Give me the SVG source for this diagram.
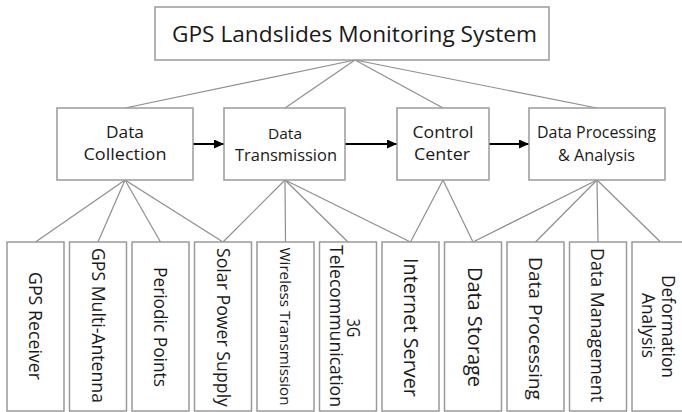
<svg xmlns="http://www.w3.org/2000/svg" width="682" height="412" viewBox="0 0 682 412">
<defs>
<marker id="arr" markerUnits="userSpaceOnUse" markerWidth="11" markerHeight="10" refX="10" refY="4.5" orient="auto">
<path d="M0,0 L10,4.5 L0,9 z" fill="#000"/>
</marker>
<style>
.box{fill:#fff;stroke:#9a9a9a;stroke-width:1.5}
.ln{stroke:#8e8e8e;stroke-width:1.2;fill:none}
.ar{stroke:#000;stroke-width:2;fill:none}
text{font-family:"Open Sans","Liberation Sans",sans-serif;fill:#1a1a1a;text-anchor:middle}
</style>
</defs>
<rect width="682" height="412" fill="#fff"/>
<g id="connectors">
<line class="ln" x1="355" y1="60" x2="125" y2="108"/>
<line class="ln" x1="355" y1="60" x2="285" y2="108"/>
<line class="ln" x1="355" y1="60" x2="443" y2="108"/>
<line class="ln" x1="355" y1="60" x2="597" y2="108"/>
<line class="ln" x1="125" y1="180" x2="35.5" y2="242"/>
<line class="ln" x1="125" y1="180" x2="98" y2="242"/>
<line class="ln" x1="125" y1="180" x2="160.5" y2="242"/>
<line class="ln" x1="125" y1="180" x2="223" y2="242"/>
<line class="ln" x1="285" y1="180" x2="223" y2="242"/>
<line class="ln" x1="285" y1="180" x2="285.5" y2="242"/>
<line class="ln" x1="285" y1="180" x2="348" y2="242"/>
<line class="ln" x1="285" y1="180" x2="410.5" y2="242"/>
<line class="ln" x1="443" y1="180" x2="410.5" y2="242"/>
<line class="ln" x1="443" y1="180" x2="473" y2="242"/>
<line class="ln" x1="597" y1="180" x2="473" y2="242"/>
<line class="ln" x1="597" y1="180" x2="535.5" y2="242"/>
<line class="ln" x1="597" y1="180" x2="598" y2="242"/>
<line class="ln" x1="597" y1="180" x2="660.5" y2="242"/>
<line class="ar" x1="193" y1="144" x2="224" y2="144" marker-end="url(#arr)"/>
<line class="ar" x1="345" y1="144" x2="397" y2="144" marker-end="url(#arr)"/>
<line class="ar" x1="489" y1="144" x2="529" y2="144" marker-end="url(#arr)"/>
</g>
<g id="root">
<rect class="box" x="155" y="7" width="394" height="53"/>
<text x="354.5" y="42" font-size="21.5" textLength="365" lengthAdjust="spacingAndGlyphs">GPS Landslides Monitoring System</text>
</g>
<g id="data-collection">
<rect class="box" x="57" y="108" width="136" height="72"/>
<text x="125" y="138" font-size="17" textLength="38" lengthAdjust="spacingAndGlyphs">Data</text>
<text x="125" y="160" font-size="17" textLength="83" lengthAdjust="spacingAndGlyphs">Collection</text>
</g>
<g id="data-transmission">
<rect class="box" x="224" y="108" width="121" height="72"/>
<text x="285" y="139" font-size="15" textLength="34" lengthAdjust="spacingAndGlyphs">Data</text>
<text x="286" y="161" font-size="16" textLength="102" lengthAdjust="spacingAndGlyphs">Transmission</text>
</g>
<g id="control-center">
<rect class="box" x="397" y="108" width="92" height="72"/>
<text x="443" y="138" font-size="17" textLength="61" lengthAdjust="spacingAndGlyphs">Control</text>
<text x="442" y="160" font-size="17" textLength="56" lengthAdjust="spacingAndGlyphs">Center</text>
</g>
<g id="data-processing-analysis">
<rect class="box" x="529" y="108" width="136" height="72"/>
<text x="596.5" y="138" font-size="16" textLength="119" lengthAdjust="spacingAndGlyphs">Data Processing</text>
<text x="596.5" y="161" font-size="16" textLength="77" lengthAdjust="spacingAndGlyphs">&amp; Analysis</text>
</g>
<g id="gps-receiver">
<rect class="box" x="7" y="242" width="57" height="169"/>
<text transform="translate(29,326) rotate(90)" font-size="18" textLength="108" lengthAdjust="spacingAndGlyphs">GPS Receiver</text>
</g>
<g id="gps-multi-antenna">
<rect class="box" x="69.5" y="242" width="57" height="169"/>
<text transform="translate(91.5,325.5) rotate(90)" font-size="18" textLength="155" lengthAdjust="spacingAndGlyphs">GPS Multi-Antenna</text>
</g>
<g id="periodic-points">
<rect class="box" x="132" y="242" width="57" height="169"/>
<text transform="translate(153.5,327) rotate(90)" font-size="18" textLength="120" lengthAdjust="spacingAndGlyphs">Periodic Points</text>
</g>
<g id="solar-power-supply">
<rect class="box" x="194.5" y="242" width="57" height="169"/>
<text transform="translate(216.5,327.5) rotate(90)" font-size="18" textLength="159" lengthAdjust="spacingAndGlyphs">Solar Power Supply</text>
</g>
<g id="wireless-transmission">
<rect class="box" x="257" y="242" width="57" height="169"/>
<text transform="translate(279.5,326.5) rotate(90)" font-size="15" textLength="158" lengthAdjust="spacingAndGlyphs">Wireless Transmission</text>
</g>
<g id="telecommunication-3g">
<rect class="box" x="319.5" y="242" width="57" height="169"/>
<text transform="translate(347,328) rotate(90)" font-size="17.5" textLength="19" lengthAdjust="spacingAndGlyphs">3G</text>
<text transform="translate(329.5,326) rotate(90)" font-size="17.5" textLength="162" lengthAdjust="spacingAndGlyphs">Telecommunication</text>
</g>
<g id="internet-server">
<rect class="box" x="382" y="242" width="57" height="169"/>
<text transform="translate(403.5,327.5) rotate(90)" font-size="20" textLength="139" lengthAdjust="spacingAndGlyphs">Internet Server</text>
</g>
<g id="data-storage">
<rect class="box" x="444.5" y="242" width="57" height="169"/>
<text transform="translate(468,327) rotate(90)" font-size="20" textLength="120" lengthAdjust="spacingAndGlyphs">Data Storage</text>
</g>
<g id="data-processing">
<rect class="box" x="507" y="242" width="57" height="169"/>
<text transform="translate(528.5,328.5) rotate(90)" font-size="19" textLength="143" lengthAdjust="spacingAndGlyphs">Data Processing</text>
</g>
<g id="data-management">
<rect class="box" x="569.5" y="242" width="57" height="169"/>
<text transform="translate(590.5,325) rotate(90)" font-size="17.8" textLength="154" lengthAdjust="spacingAndGlyphs">Data Management</text>
</g>
<g id="deformation-analysis">
<rect class="box" x="632" y="242" width="57" height="169"/>
<text transform="translate(662,326.5) rotate(90)" font-size="17.4" textLength="103" lengthAdjust="spacingAndGlyphs">Deformation</text>
<text transform="translate(642,325.5) rotate(90)" font-size="17.4" textLength="65" lengthAdjust="spacingAndGlyphs">Analysis</text>
</g>
</svg>
